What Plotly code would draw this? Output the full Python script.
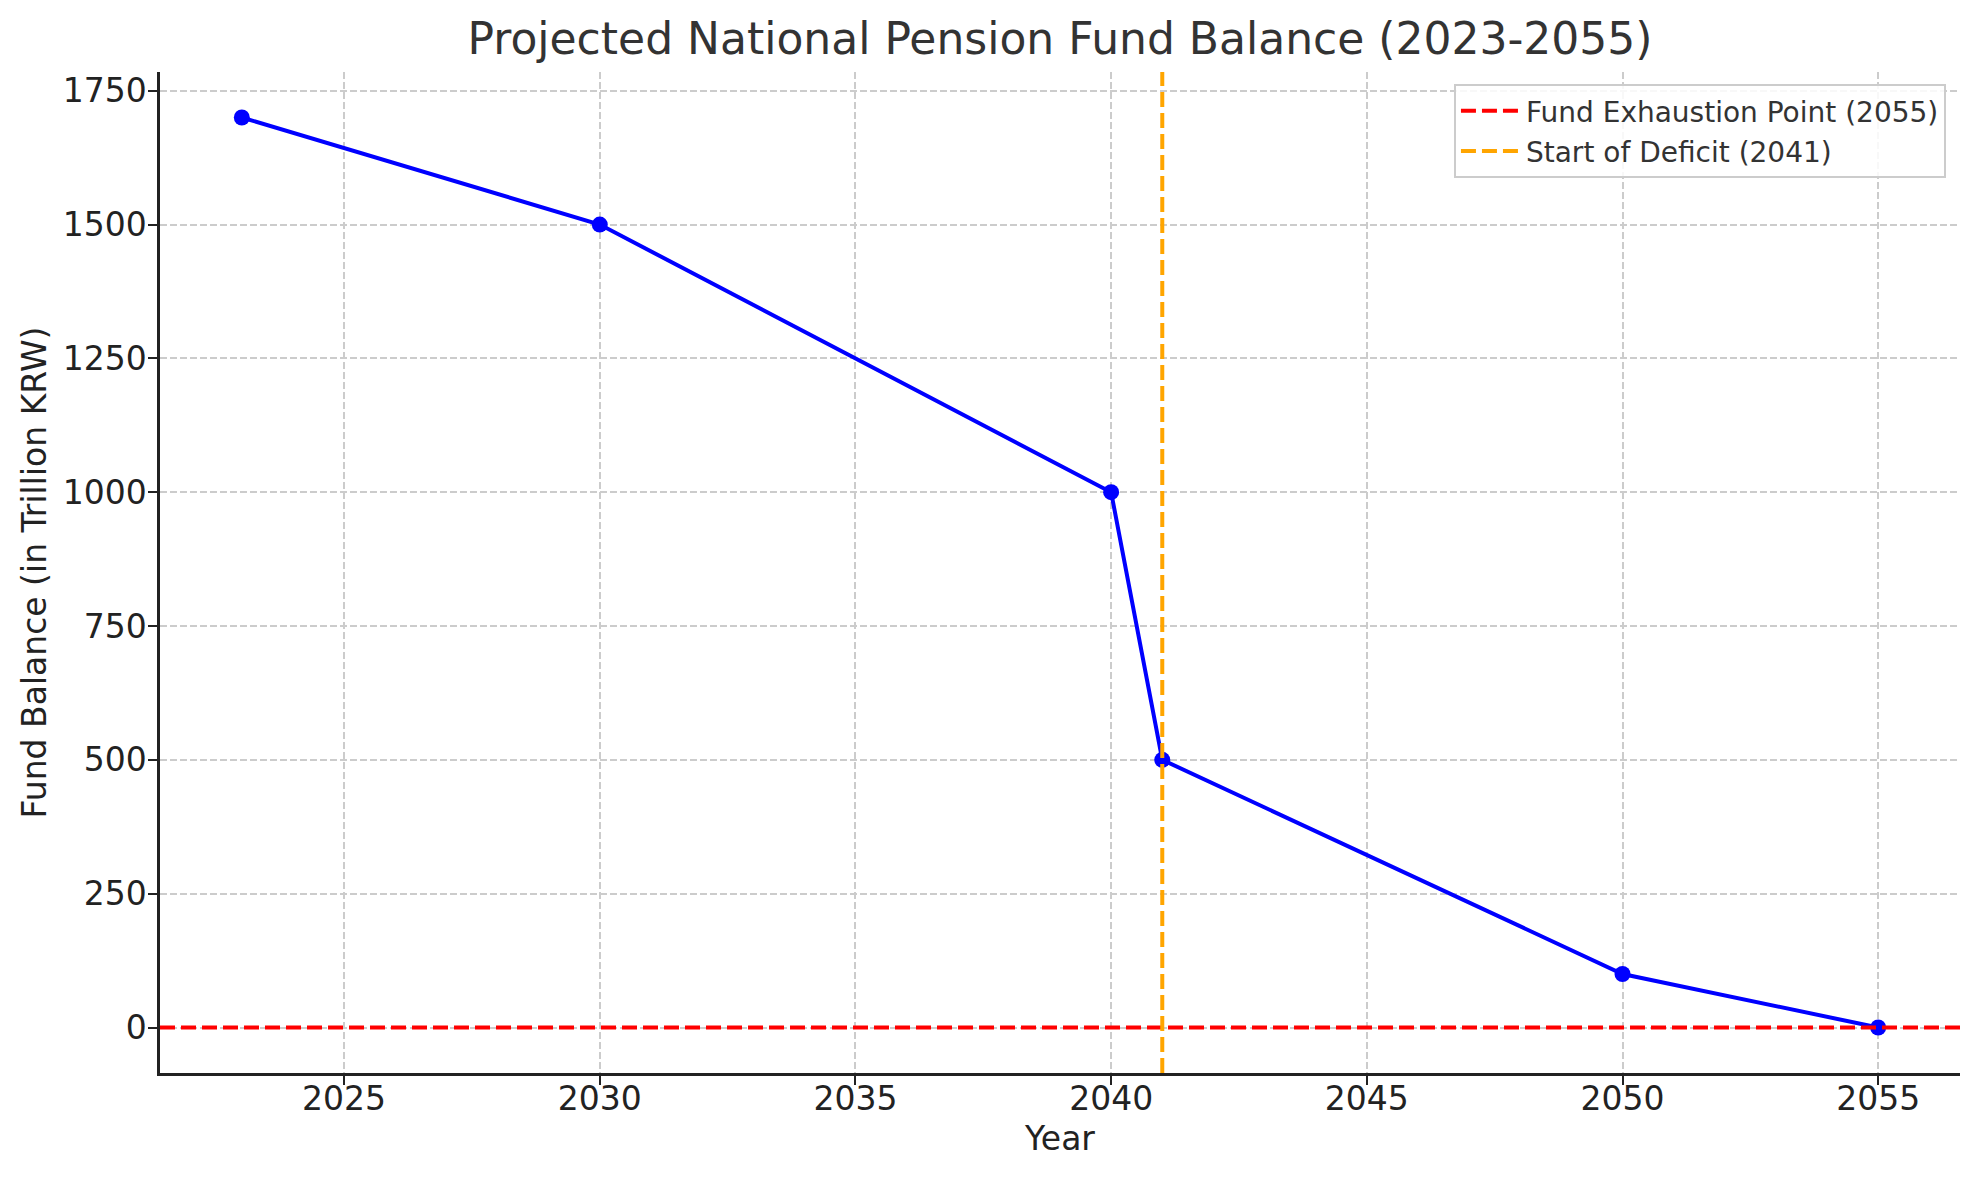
import plotly.graph_objects as go

years = [2023, 2030, 2040, 2041, 2050, 2055]
balance = [1700, 1500, 1000, 500, 100, 0]
exhaustion_year = 2055
deficit_year = 2041
exhaustion_level = 0
y_ticks = [0, 250, 500, 750, 1000, 1250, 1500, 1750]
x_ticks = [2025, 2030, 2035, 2040, 2045, 2050, 2055]

FONT = "DejaVu Sans"
DASH = "15px,6px"

fig = go.Figure()
fig.add_trace(go.Scatter(
    x=years, y=balance, mode="lines+markers",
    line=dict(color="blue", width=4), marker=dict(color="blue", size=16),
    showlegend=False, hoverinfo="x+y"))

fig.add_hline(y=exhaustion_level, line=dict(color="red", width=4, dash=DASH), layer="above")
fig.add_vline(x=deficit_year, line=dict(color="orange", width=4, dash=DASH), layer="above")

fig.add_trace(go.Scatter(x=[None], y=[None], mode="lines",
                         line=dict(color="red", width=4, dash=DASH),
                         name=f"Fund Exhaustion Point ({exhaustion_year})", legendgroup="a"))
fig.add_trace(go.Scatter(x=[None], y=[None], mode="lines",
                         line=dict(color="orange", width=4, dash=DASH),
                         name=f"Start of Deficit ({deficit_year})", legendgroup="b"))

axis_common = dict(
    showgrid=True, gridcolor="#cccccc", griddash="7px,3px", gridwidth=1.5,
    showline=True, linecolor="#222222", linewidth=2.5,
    ticks="outside", ticklen=9, tickwidth=2, tickcolor="#222222",
    tickfont=dict(family=FONT, size=33, color="#222222"),
    zeroline=False, mirror=False,
)

fig.update_layout(
    width=1979, height=1180,
    margin=dict(l=160, r=19, t=72, b=107),
    paper_bgcolor="white", plot_bgcolor="white",
    font=dict(family=FONT, color="#333333"),
    title=dict(text="Projected National Pension Fund Balance (2023-2055)",
               x=0.5, xref="paper", xanchor="center", y=1 - 39 / 1180, yanchor="middle",
               font=dict(family=FONT, size=44, color="#333333")),
    xaxis=dict(axis_common, range=[2021.4, 2056.6], tickvals=x_ticks, ticklabelstandoff=-14,
               title=dict(text="Year", font=dict(family=FONT, size=33, color="#222222"), standoff=10)),
    yaxis=dict(axis_common, range=[-85, 1785], tickvals=y_ticks, ticklabelstandoff=-5,
               title=dict(text="Fund Balance (in Trillion KRW)", font=dict(family=FONT, size=33, color="#222222"), standoff=7)),
    legend=dict(x=0.9922, y=0.988, xanchor="right", yanchor="top",
                bgcolor="rgba(255,255,255,0.85)", bordercolor="#cccccc", borderwidth=2,
                font=dict(family=FONT, size=28, color="#333333"),
                itemwidth=60, tracegroupgap=1),
)

fig.write_html("out.html", config={"displayModeBar": False},
               post_script="document.body.style.margin='0';")
